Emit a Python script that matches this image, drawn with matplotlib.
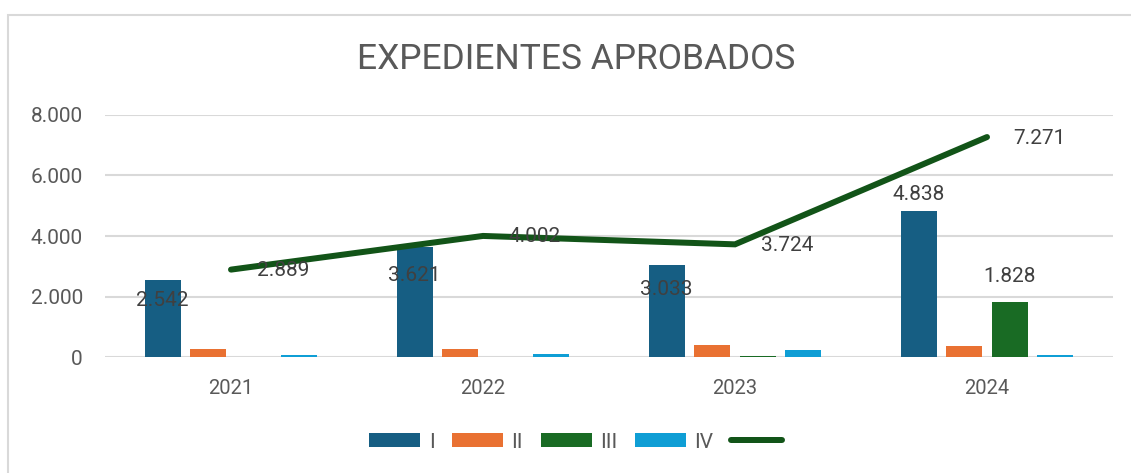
import matplotlib
matplotlib.use("Agg")
import matplotlib.pyplot as plt
import numpy as np
from matplotlib.patches import Patch, Rectangle
from matplotlib.lines import Line2D

# Data
years = ["2021", "2022", "2023", "2024"]
serie_i = [2542, 3621, 3033, 4838]
serie_ii = [250, 260, 410, 370]
serie_iii = [0, 0, 25, 1828]
serie_iv = [70, 110, 230, 60]
total = [2889, 4002, 3724, 7271]
series_names = ["I", "II", "III", "IV"]

W, H, DPI = 1131, 473, 100
colors = ["#165E83", "#E97132", "#196B24", "#0F9ED5"]
line_color = "#125418"
grid_color = "#D9D9D9"
tick_color = "#595959"
label_color = "#404040"

plt.rcParams["font.family"] = ["Roboto", "DejaVu Sans"]


def px(p):
    """pixels -> points"""
    return p * 72 / DPI


def fmt(v):
    return f"{v:,.0f}".replace(",", ".")


fig = plt.figure(figsize=(W / DPI, H / DPI), dpi=DPI)
fig.patch.set_facecolor("white")

# chart frame (cropped at right and bottom)
fig.patches.append(Rectangle((7.5 / W, -0.1), 1.2, 1 - 15.5 / H + 0.1,
                             transform=fig.transFigure, fill=False,
                             edgecolor=grid_color, linewidth=1.5))

ax = fig.add_axes([105 / W, (H - 357) / H, 1008 / W, 242 / H])
ax.set_xlim(-0.5, 3.5)
ax.set_ylim(0, 8000)

x = np.arange(len(years))
step = 0.1806
width = 0.143
all_series = [serie_i, serie_ii, serie_iii, serie_iv]
bars = []
for j, vals in enumerate(all_series):
    b = ax.bar(x + (j - 1.5) * step, vals, width=width, color=colors[j], zorder=2)
    bars.append(b)

ax.plot(x, total, color=line_color, linewidth=px(6), solid_capstyle="round",
        solid_joinstyle="miter", zorder=3)

ax.set_yticks(range(0, 8001, 2000))
ax.yaxis.set_major_formatter(matplotlib.ticker.FuncFormatter(lambda v, _: fmt(v)))
ax.set_xticks(x)
ax.set_xticklabels(years)
ax.tick_params(axis="y", length=0, pad=px(22), labelsize=15, labelcolor=tick_color)
ax.tick_params(axis="x", length=0, pad=px(22), labelsize=14.5, labelcolor=tick_color)
ax.grid(axis="y", color=grid_color, linewidth=1.5, zorder=0)
ax.set_axisbelow(True)
for s in ax.spines.values():
    s.set_visible(False)

# data labels on serie I
for i, (rect, v) in enumerate(zip(bars[0], serie_i)):
    cx = rect.get_x() + rect.get_width() / 2
    if i < 3:
        ax.text(cx, v * 0.74, fmt(v), ha="center", va="center", fontsize=15,
                color=label_color, zorder=4)
    else:
        ax.annotate(fmt(v), (cx, v), xytext=(0, px(16)), textcoords="offset points",
                    ha="center", va="center", fontsize=15, color=label_color, zorder=4)

# data label on serie III (2024)
rect = bars[2][3]
ax.annotate(fmt(serie_iii[3]), (rect.get_x() + rect.get_width() / 2, serie_iii[3]),
            xytext=(0, px(25)), textcoords="offset points",
            ha="center", va="center", fontsize=15, color=label_color, zorder=4)

# data labels on the total line
for xi, v in zip(x, total):
    ax.annotate(fmt(v), (xi, v), xytext=(px(52), px(-1)), textcoords="offset points",
                ha="center", va="center", fontsize=15, color=label_color, zorder=4)

fig.text(576 / W, 1 - 59.5 / H, "EXPEDIENTES APROBADOS", ha="center", va="center",
         fontsize=25.5, color=tick_color)

handles = [Patch(facecolor=c) for c in colors]
handles.append(Line2D([0], [0], color=line_color, linewidth=px(6), solid_capstyle="round"))
labels = series_names + [""]
leg = fig.legend(handles, labels, loc="center", bbox_to_anchor=(580 / W, 1 - 442 / H),
                 ncol=5, frameon=False, fontsize=15, handlelength=2.45,
                 handleheight=0.67, handletextpad=0.4, columnspacing=0.85)
for t in leg.get_texts():
    t.set_color(tick_color)

fig.savefig("out.png", dpi=DPI, facecolor="white")
